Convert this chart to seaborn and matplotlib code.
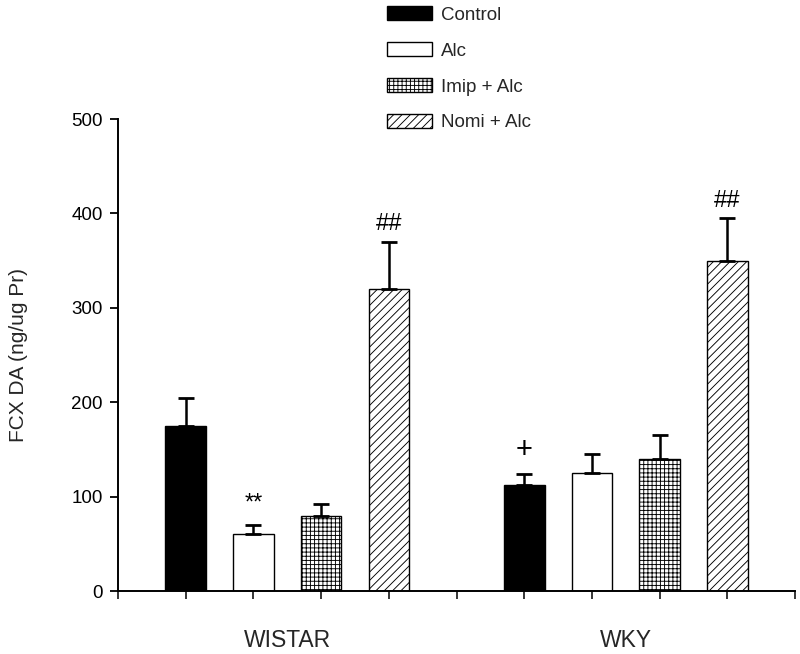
import numpy as np
import pandas as pd
import matplotlib
matplotlib.use("Agg")
import matplotlib.pyplot as plt
import seaborn as sns
from matplotlib.patches import Patch

sns.set_theme(style="ticks")
plt.rcParams['font.family'] = ['Liberation Sans', 'DejaVu Sans']
plt.rcParams['hatch.linewidth'] = 0.65

strains = ["WISTAR", "WKY"]
treatments = ["Control", "Alc", "Imip + Alc", "Nomi + Alc"]
wistar_means = [175, 60, 80, 320]
wistar_sem = [30, 10, 12, 50]
wky_means = [112, 125, 140, 350]
wky_sem = [12, 20, 25, 45]
marks_wistar = ["", "**", "", "##"]
marks_wky = ["+", "", "", "##"]

rows = []
for g, (s, m, e, mk) in enumerate([(strains[0], wistar_means, wistar_sem, marks_wistar),
                                    (strains[1], wky_means, wky_sem, marks_wky)]):
    for t, tr in enumerate(treatments):
        rows.append(dict(strain=s, treatment=tr, pos=g * 5 + t + 1, mean=m[t], sem=e[t], mark=mk[t]))
df = pd.DataFrame(rows)

fig = plt.figure(figsize=(8, 6.54), dpi=100)
ax = fig.add_axes([0.1475, 0.0963, 0.8465, 0.7217])

face = {"Control": "black", "Alc": "white", "Imip + Alc": "white", "Nomi + Alc": "white"}
hatch = {"Control": None, "Alc": None, "Imip + Alc": "++++", "Nomi + Alc": "////"}

sns.barplot(data=df, x="pos", y="mean", hue="treatment", hue_order=treatments,
            palette=face, native_scale=True, dodge=False, width=0.6,
            edgecolor="black", linewidth=1.0, errorbar=None, legend=False, ax=ax)

for patch_container, tr in zip(ax.containers, treatments):
    for p in patch_container:
        p.set_facecolor(face[tr])
        p.set_edgecolor("black")
        if hatch[tr]:
            p.set_hatch(hatch[tr])

ax.errorbar(df["pos"], df["mean"], yerr=[np.zeros(len(df)), df["sem"]], fmt="none",
            ecolor="black", elinewidth=1.8, capsize=6, capthick=2.0, zorder=3)

# annotation style: (offset above error bar in data units, fontsize, vertical alignment)
mark_style = {"**": (23, 17, "center"), "+": (25, 21, "center"), "##": (12, 17, "baseline")}
for _, r in df.iterrows():
    if r["mark"]:
        off, fs, va = mark_style[r["mark"]]
        ax.text(r["pos"], r["mean"] + r["sem"] + off, r["mark"], ha="center", va=va,
                fontsize=fs, color="black")

ax.set_xlim(0, 10)
ax.set_ylim(0, 500)
ax.set_yticks([0, 100, 200, 300, 400, 500])
ax.set_xticks(np.arange(0, 11))
ax.set_xticklabels([])
ax.tick_params(axis="y", direction="out", length=6, width=1.3, pad=5, labelsize=13.5, colors="black")
ax.tick_params(axis="x", direction="out", length=6, width=1.3)
for sp in ["top", "right"]:
    ax.spines[sp].set_visible(False)
for sp in ["left", "bottom"]:
    ax.spines[sp].set_linewidth(1.4)
    ax.spines[sp].set_color("black")

ax.set_xlabel("")
ax.set_ylabel("FCX DA (ng/ug Pr)", fontsize=15)
ax.yaxis.set_label_coords(-0.133, 0.5)
for g, s in enumerate(strains):
    ax.text(g * 5 + 2.5, -40, s, ha="center", va="top", fontsize=16.5)

handles = [Patch(facecolor=face[t], edgecolor="black", hatch=hatch[t], label=t) for t in treatments]
fig.legend(handles=handles, loc="upper left", bbox_to_anchor=(0.463, 1.016), frameon=False,
           handlelength=2.4, handleheight=0.76, labelspacing=0.98, fontsize=13.5, handletextpad=0.45)

fig.savefig("out.png", dpi=100)
